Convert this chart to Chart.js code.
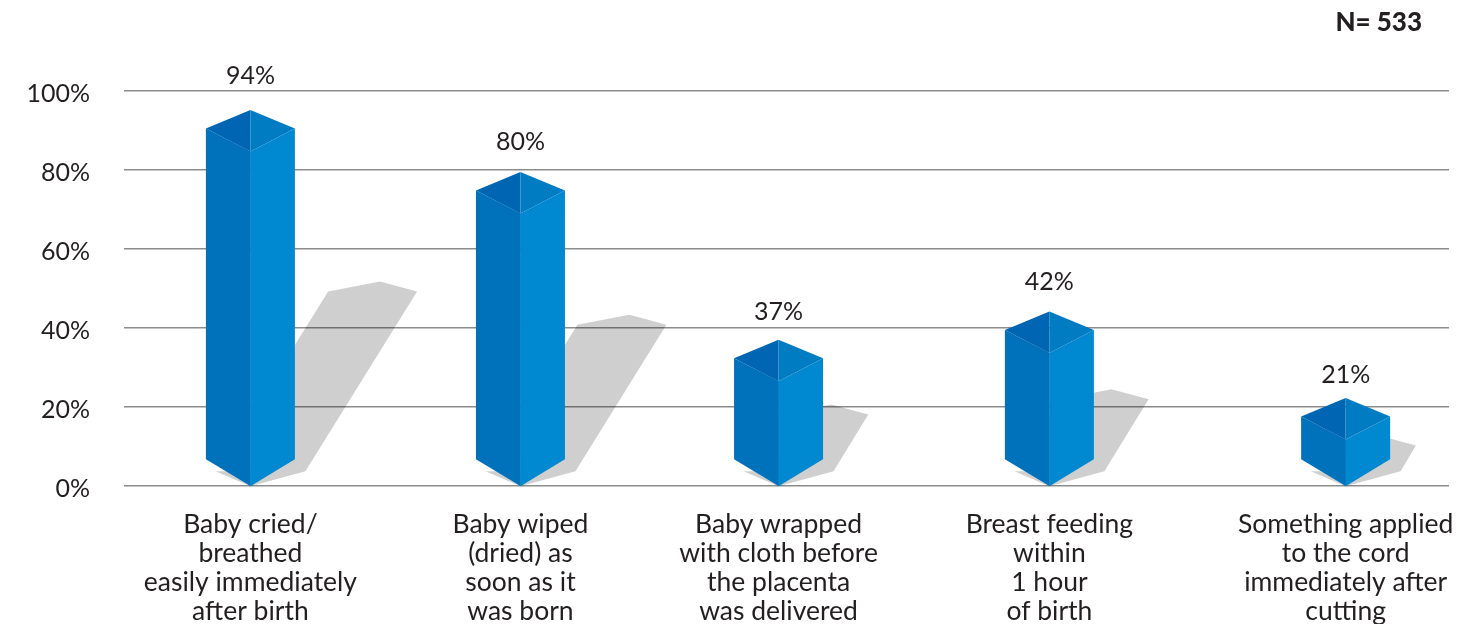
<!DOCTYPE html>
<html>
<head>
<meta charset="utf-8">
<style>html,body{margin:0;padding:0;background:#fff}#w{width:1481px;height:624px;position:relative}</style>
<script src="https://cdn.jsdelivr.net/npm/chart.js@4/dist/chart.umd.min.js"></script>
</head>
<body>
<div id="w"><canvas id="c" width="1481" height="624"></canvas></div>
<script>
const categories = [
  ["Baby cried/", "breathed", "easily immediately", "after birth"],
  ["Baby wiped", "(dried) as", "soon as it", "was born"],
  ["Baby wrapped", "with cloth before", "the placenta", "was delivered"],
  ["Breast feeding", "within", "1 hour", "of birth"],
  ["Something applied", "to the cord", "immediately after", "cutting"]
];
const slots = [0.477, 1.496, 2.47, 3.492, 4.61];
const printedValues = [94, 80, 37, 42, 21];
const barHeights = [95.2, 79.5, 37, 44.2, 22.3];
const labelLift = [34, 30, 28, 29, 23];
const yTicks = [0, 20, 40, 60, 80, 100];
const sampleNote = "N= 533";

const TEXT = "#231F20";
const FONT = "Lato";

function poly(ctx, pts, fill) {
  ctx.beginPath();
  pts.forEach((p, i) => i ? ctx.lineTo(p[0], p[1]) : ctx.moveTo(p[0], p[1]));
  ctx.closePath();
  ctx.fillStyle = fill;
  ctx.fill();
}

const prismPlugin = {
  id: "prism",
  beforeDatasetsDraw(chart) {
    const ctx = chart.ctx;
    const meta = chart.getDatasetMeta(0);
    ctx.save();
    meta.data.forEach(el => {
      const c = el.x, b = el.base, h = b - el.y;
      const fx = c + 41 + 0.335 * h, fy = b + 7 - 0.535 * h;
      const ix = fx - 89, iy = fy;
      const rx = c + 55, ry = b - 14;
      ctx.filter = "blur(0.6px)";
      poly(ctx, [
        [c - 35, b - 14], [c, b + 1], [rx, ry], [fx, fy], [fx - 37, fy - 10], [ix, iy],
        [ix + 0.5 * (rx - fx), iy + 0.5 * (ry - fy)], [c, b - 14]
      ], "rgba(0,0,0,0.19)");
      ctx.filter = "none";
    });
    ctx.restore();
  },
  afterDatasetsDraw(chart) {
    const ctx = chart.ctx;
    const meta = chart.getDatasetMeta(0);
    ctx.save();
    meta.data.forEach((el, i) => {
      const c = el.x, top = el.y, b = el.base, w = 44.5;
      const sh = top + 18.5, ridge = top + 41.5, sb = b - 26, tip = b + 1;
      poly(ctx, [[c - w, sh], [c + 0.4, ridge], [c + 0.4, tip], [c - w, sb]], "#0072BB");
      poly(ctx, [[c, ridge], [c + w, sh], [c + w, sb], [c, tip]], "#0089D1");
      poly(ctx, [[c, top], [c - w, sh], [c, ridge]], "#0066B3");
      poly(ctx, [[c, top], [c + w, sh], [c, ridge]], "#007CC3");
      ctx.fillStyle = TEXT;
      ctx.font = "25px " + FONT;
      ctx.textAlign = "center";
      ctx.textBaseline = "middle";
      ctx.fillText(printedValues[i] + "%", c, top - labelLift[i]);
    });
    ctx.font = "900 26px " + FONT;
    ctx.textAlign = "right";
    ctx.textBaseline = "middle";
    ctx.fillStyle = TEXT;
    ctx.fillText(sampleNote, 1422, 23);
    ctx.restore();
  }
};

new Chart(document.getElementById("c"), {
  type: "bar",
  data: {
    datasets: [{
      label: "Percent",
      data: barHeights.map((v, i) => ({ x: slots[i], y: v })),
      backgroundColor: "rgba(0,0,0,0)",
      borderWidth: 0,
      barThickness: 89
    }]
  },
  plugins: [prismPlugin],
  options: {
    responsive: false,
    animation: false,
    devicePixelRatio: 1,
    layout: { padding: { top: 91, right: 32, left: 0, bottom: 0 } },
    plugins: { legend: { display: false }, tooltip: { enabled: false }, title: { display: false } },
    scales: {
      x: {
        type: "linear",
        offset: false,
        min: 0,
        max: 5,
        grid: { display: false },
        border: { display: false },
        afterBuildTicks(scale) { scale.ticks = slots.map(v => ({ value: v })); },
        afterFit(scale) { scale.height = 138; },
        ticks: {
          autoSkip: false,
          maxRotation: 0,
          padding: 16,
          color: TEXT,
          font: { family: FONT, size: 26.5, lineHeight: 1.094 },
          callback(v) { return categories[slots.indexOf(v)]; }
        }
      },
      y: {
        min: 0,
        max: 100,
        afterBuildTicks(scale) { scale.ticks = yTicks.map(v => ({ value: v })); },
        afterFit(scale) { scale.width = 124; },
        grid: { color: "#8C8C8C", lineWidth: 1.5, drawTicks: false },
        border: { display: false },
        ticks: {
          padding: 34,
          labelOffset: 3,
          color: TEXT,
          font: { family: FONT, size: 25 },
          callback(v) { return v + "%"; }
        }
      }
    }
  }
});
</script>
</body>
</html>
